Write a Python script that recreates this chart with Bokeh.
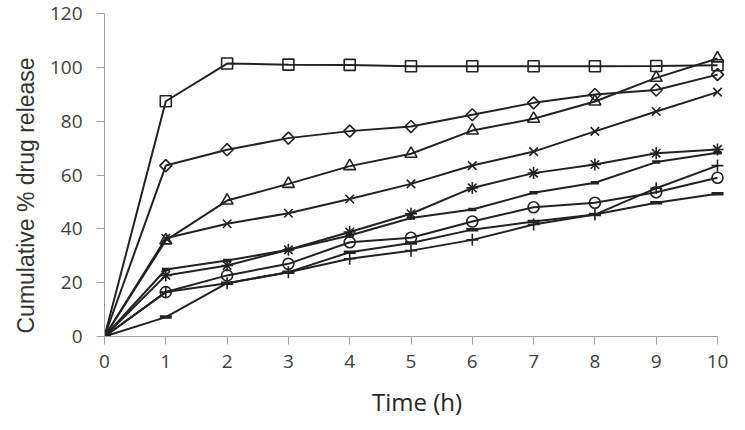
import numpy as np
from bokeh.plotting import figure
from bokeh.models import Range1d, FixedTicker, Title
from bokeh.embed import file_html
from bokeh.resources import INLINE

# ---- data ----
time_h = [0, 1, 2, 3, 4, 5, 6, 7, 8, 9, 10]
s_square = [0, 87.4, 101.4, 101.0, 100.9, 100.4, 100.4, 100.4, 100.4, 100.5, 100.8]
s_diamond = [0, 63.5, 69.4, 73.7, 76.3, 78.0, 82.4, 86.8, 89.9, 91.6, 97.3]
s_triangle = [0, 35.7, 50.5, 56.7, 63.3, 67.9, 76.5, 80.9, 87.3, 96.1, 103.3]
s_x = [0, 36.5, 41.9, 45.8, 51.1, 56.7, 63.5, 68.7, 76.2, 83.6, 90.8]
s_star = [0, 22.7, 26.4, 32.2, 38.8, 45.6, 55.2, 60.7, 63.9, 68.1, 69.5]
s_short_dash = [0, 24.9, 28.2, 32.2, 37.5, 44.0, 47.2, 53.4, 57.1, 64.8, 68.3]
s_circle = [0, 16.5, 22.7, 27.0, 35.0, 36.7, 42.7, 48.0, 49.7, 53.6, 59.0]
s_plus = [0, 16.5, 19.8, 23.9, 28.9, 31.9, 35.9, 41.6, 45.3, 55.1, 63.5]
s_long_dash = [0, 7.2, 19.8, 23.9, 31.3, 34.7, 39.7, 42.7, 45.3, 49.7, 53.0]

x_ticks = [0, 1, 2, 3, 4, 5, 6, 7, 8, 9, 10]
y_ticks = [0, 20, 40, 60, 80, 100, 120]
x_title = "Time (h)"
y_title = "Cumulative % drug release"

# ---- layout ----
X_MAX, Y_MAX = 10, 120
AX_W, AX_H = 613, 323          # pixel length of the axes
PX_X = AX_W / X_MAX
PX_Y = AX_H / Y_MAX
PAD_R, PAD_T = 12, 5

p = figure(
    frame_width=AX_W + PAD_R, frame_height=AX_H + PAD_T,
    min_border_left=104, min_border_right=8, min_border_top=8, min_border_bottom=86,
    x_range=Range1d(0, X_MAX + PAD_R / PX_X),
    y_range=Range1d(0, Y_MAX + PAD_T / PX_Y),
    output_backend="svg", toolbar_location=None,
    background_fill_color="white", border_fill_color="white",
)
p.outline_line_color = None
p.grid.visible = False

axis_col = "#a0a0a0"
for ax in (p.xaxis[0], p.yaxis[0]):
    ax.axis_line_color = axis_col
    ax.major_tick_line_color = axis_col
    ax.minor_tick_line_color = None
    ax.major_tick_in = 0
    ax.major_tick_out = 8
    ax.major_label_text_font = "Open Sans"
    ax.major_label_text_font_size = "19px"
    ax.major_label_text_color = "#404040"

p.xaxis[0].ticker = FixedTicker(ticks=x_ticks)
p.yaxis[0].ticker = FixedTicker(ticks=y_ticks)
p.xaxis[0].bounds = (0, X_MAX)
p.yaxis[0].bounds = (0, Y_MAX)
p.xaxis[0].major_label_standoff = 10
p.yaxis[0].major_label_standoff = 14

# x title
p.xaxis[0].axis_label = x_title
p.xaxis[0].axis_label_text_font = "Open Sans"
p.xaxis[0].axis_label_text_font_size = "24px"
p.xaxis[0].axis_label_text_font_style = "normal"
p.xaxis[0].axis_label_text_color = "#262626"
p.xaxis[0].axis_label_standoff = 14

# y title as a left-side Title, starting near the bottom like the reference
p.add_layout(Title(text=y_title, align="left", offset=3, standoff=16,
                   text_font="Liberation Sans", text_font_size="23px",
                   text_font_style="normal", text_color="#333333"), "left")

line_col = "#222222"
series = [
    (s_square, "square", 11, 0.0, 1.6),
    (s_diamond, "square", 8.5, np.pi / 4, 1.6),
    (s_triangle, "triangle", 12, 0.0, 1.6),
    (s_x, "x", 12, 0.0, 1.6),
    (s_star, "asterisk", 12, 0.0, 1.6),
    (s_short_dash, "dash", 8, 0.0, 3.5),
    (s_circle, "circle", 11, 0.0, 1.6),
    (s_plus, "cross", 12, 0.0, 1.6),
    (s_long_dash, "dash", 12, 0.0, 3.5),
]
for vals, mk, sz, ang, mlw in series:
    p.line(time_h, vals, line_color=line_col, line_width=2)
for vals, mk, sz, ang, mlw in series:
    p.scatter(time_h, vals, marker=mk, size=sz, angle=ang,
              line_color=line_col, line_width=mlw, fill_color=None)

open("out.html", "w").write(file_html(p, INLINE))
